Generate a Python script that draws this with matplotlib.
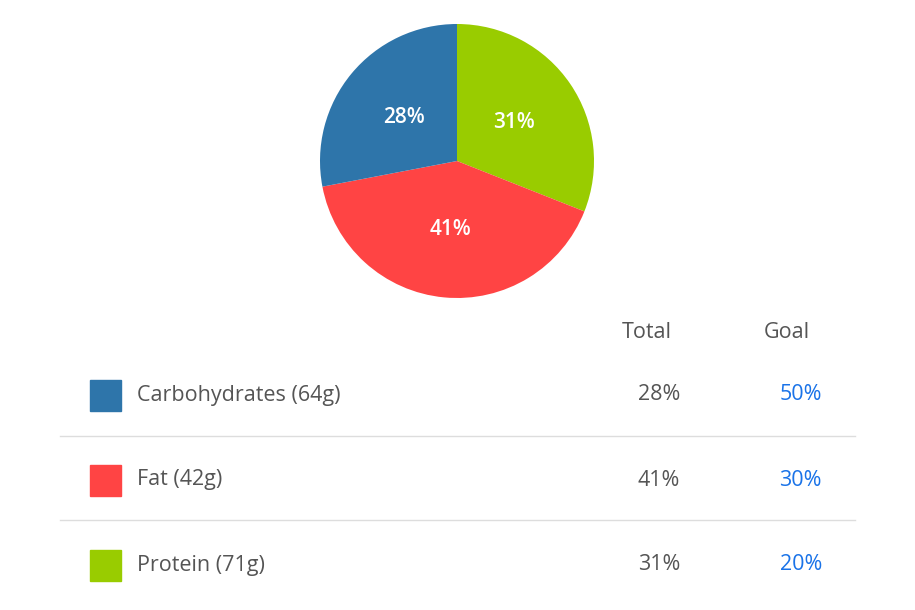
import matplotlib
matplotlib.use("Agg")
import matplotlib.pyplot as plt
from matplotlib.patches import Rectangle

names = ["Carbohydrates (64g)", "Fat (42g)", "Protein (71g)"]
totals = [28, 41, 31]
goals = [50, 30, 20]
colors = ["#2E75AA", "#FF4444", "#99CC00"]

W, H = 915, 610
fig = plt.figure(figsize=(W/100, H/100), dpi=100)
plt.rcParams['font.family'] = ['Open Sans', 'DejaVu Sans']

ax = fig.add_axes([0, 0, 1, 1])
ax.set_xlim(0, W); ax.set_ylim(H, 0); ax.axis('off')

cx, cy, r = 457, 161, 137
pax = fig.add_axes([(cx-r)/W, 1-(cy+r)/H, 2*r/W, 2*r/H])
order = [2, 1, 0]
wedges, texts = pax.pie([totals[i] for i in order], colors=[colors[i] for i in order],
                        startangle=90, counterclock=False,
                        labels=[f"{totals[i]}%" for i in order], labeldistance=0.5,
                        textprops=dict(color="white", fontsize=15, fontweight='semibold',
                                       ha='center', va='center'))
pax.set_xlim(-1, 1); pax.set_ylim(-1, 1)
pax.set_aspect('equal')

gray = "#555555"
fs = 15.5
ax.text(647, 333, "Total", ha='center', va='center', fontsize=fs, color=gray)
ax.text(787, 333, "Goal", ha='center', va='center', fontsize=fs, color=gray)
rows_y = [395, 480, 565]
for i, y in enumerate(rows_y):
    ax.add_patch(Rectangle((90, y-15.5), 31, 31, color=colors[i]))
    ax.text(137, y, names[i], ha='left', va='center', fontsize=fs, color=gray)
    ax.text(680, y, f"{totals[i]}%", ha='right', va='center', fontsize=fs, color=gray)
    ax.text(822, y, f"{goals[i]}%", ha='right', va='center', fontsize=fs, color="#1A73E8")
for y in [436, 520]:
    ax.plot([60, 855], [y, y], color="#DDDDDD", lw=1)

fig.savefig("out.png", dpi=100)
